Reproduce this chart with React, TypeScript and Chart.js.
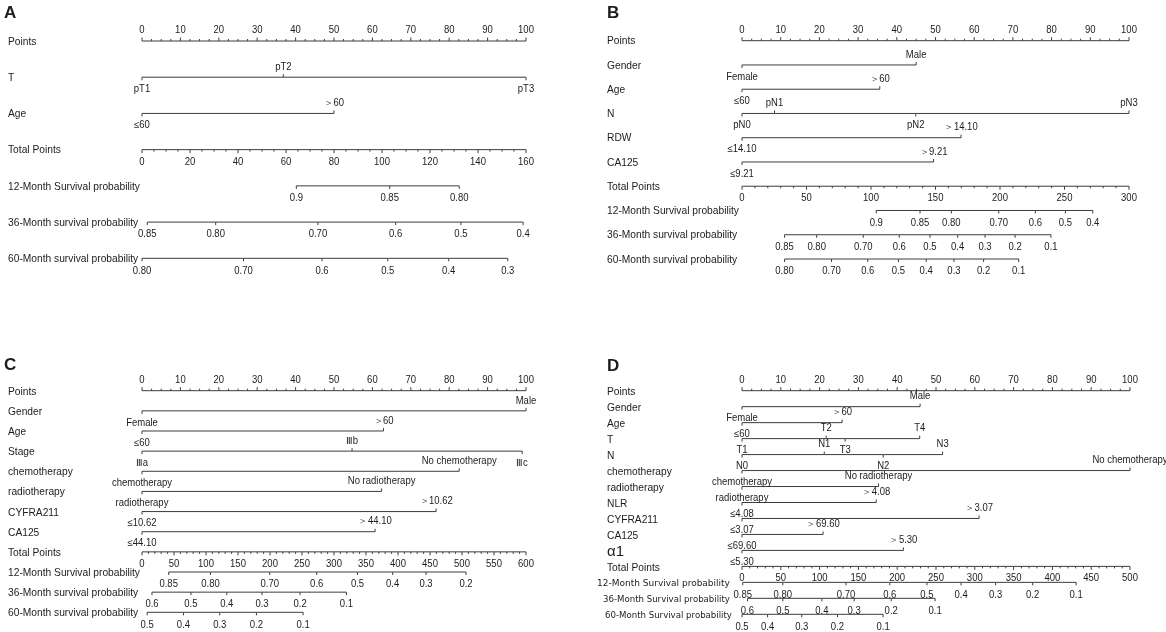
import React, { useEffect, useRef } from 'react';
import { Chart, registerables } from 'chart.js';

Chart.register(...registerables);

// ---------------- shared tick labels ----------------
const POINT_TICKS = [0, 10, 20, 30, 40, 50, 60, 70, 80, 90, 100];

// ---------------- Panel A ----------------
const A_ROWS = ['Points', 'T', 'Age', 'Total Points', '12-Month Survival probability', '36-Month survival probability', '60-Month survival probability'];
const A_T_LEVELS = ['pT1', 'pT2', 'pT3'];
const A_T_POINTS = [0, 36.8, 100];
const A_AGE_LEVELS = ['≤60', '＞60'];
const A_AGE_POINTS = [0, 50];
const A_TOTAL_TICKS = [0, 20, 40, 60, 80, 100, 120, 140, 160];
const A_S12_LABELS = ['0.9', '0.85', '0.80'];
const A_S12_TOTAL = [64.3, 103.2, 132.2];
const A_S36_LABELS = ['0.85', '0.80', '0.70', '0.6', '0.5', '0.4'];
const A_S36_TOTAL = [2.2, 30.7, 73.3, 105.7, 132.9, 158.8];
const A_S60_LABELS = ['0.80', '0.70', '0.6', '0.5', '0.4', '0.3'];
const A_S60_TOTAL = [0, 42.3, 75, 102.4, 127.8, 152.4];

// ---------------- Panel B ----------------
const B_ROWS = ['Points', 'Gender', 'Age', 'N', 'RDW', 'CA125', 'Total Points', '12-Month Survival probability', '36-Month survival probability', '60-Month survival probability'];
const B_GENDER_LEVELS = ['Female', 'Male'];
const B_GENDER_POINTS = [0, 45];
const B_AGE_LEVELS = ['≤60', '＞60'];
const B_AGE_POINTS = [0, 35.6];
const B_N_LEVELS = ['pN0', 'pN1', 'pN2', 'pN3'];
const B_N_POINTS = [0, 8.4, 44.9, 100];
const B_RDW_LEVELS = ['≤14.10', '＞14.10'];
const B_RDW_POINTS = [0, 56.6];
const B_CA125_LEVELS = ['≤9.21', '＞9.21'];
const B_CA125_POINTS = [0, 49.5];
const B_TOTAL_TICKS = [0, 50, 100, 150, 200, 250, 300];
const B_S12_LABELS = ['0.9', '0.85', '0.80', '0.70', '0.6', '0.5', '0.4'];
const B_S12_TOTAL = [104.1, 138, 162.3, 199, 227.4, 250.7, 271.9];
const B_S36_LABELS = ['0.85', '0.80', '0.70', '0.6', '0.5', '0.4', '0.3', '0.2', '0.1'];
const B_S36_TOTAL = [33, 57.9, 94, 121.9, 145.7, 167.2, 188.4, 211.7, 239.5];
const B_S60_LABELS = ['0.80', '0.70', '0.6', '0.5', '0.4', '0.3', '0.2', '0.1'];
const B_S60_TOTAL = [33, 69.4, 97.5, 121.3, 142.8, 164.3, 187.3, 214.5];

// ---------------- Panel C ----------------
const C_ROWS = ['Points', 'Gender', 'Age', 'Stage', 'chemotherapy', 'radiotherapy', 'CYFRA211', 'CA125', 'Total Points', '12-Month Survival probability', '36-Month survival probability', '60-Month survival probability'];
const C_GENDER_LEVELS = ['Female', 'Male'];
const C_GENDER_POINTS = [0, 100];
const C_AGE_LEVELS = ['≤60', '＞60'];
const C_AGE_POINTS = [0, 62.9];
const C_STAGE_LEVELS = ['Ⅲa', 'Ⅲb', 'Ⅲc'];
const C_STAGE_POINTS = [0, 54.7, 99];
const C_CHEMO_LEVELS = ['chemotherapy', 'No chemotherapy'];
const C_CHEMO_POINTS = [0, 82.6];
const C_RADIO_LEVELS = ['radiotherapy', 'No radiotherapy'];
const C_RADIO_POINTS = [0, 62.4];
const C_CYFRA_LEVELS = ['≤10.62', '＞10.62'];
const C_CYFRA_POINTS = [0, 76.6];
const C_CA125_LEVELS = ['≤44.10', '＞44.10'];
const C_CA125_POINTS = [0, 60.7];
const C_TOTAL_TICKS = [0, 50, 100, 150, 200, 250, 300, 350, 400, 450, 500, 550, 600];
const C_S12_LABELS = ['0.85', '0.80', '0.70', '0.6', '0.5', '0.4', '0.3', '0.2'];
const C_S12_TOTAL = [41.7, 107, 199.6, 273, 336.7, 391.7, 443.8, 506.3];
const C_S36_LABELS = ['0.6', '0.5', '0.4', '0.3', '0.2', '0.1'];
const C_S36_TOTAL = [15.6, 76.4, 132.5, 187.5, 247, 319.4];
const C_S60_LABELS = ['0.5', '0.4', '0.3', '0.2', '0.1'];
const C_S60_TOTAL = [8.1, 64.8, 121.5, 178.8, 251.7];

// ---------------- Panel D ----------------
const D_ROWS = ['Points', 'Gender', 'Age', 'T', 'N', 'chemotherapy', 'radiotherapy', 'NLR', 'CYFRA211', 'CA125', 'α1', 'Total Points', '12-Month Survival probability', '36-Month Survival probability', '60-Month Survival probability'];
const D_GENDER_LEVELS = ['Female', 'Male'];
const D_GENDER_POINTS = [0, 45.9];
const D_AGE_LEVELS = ['≤60', '＞60'];
const D_AGE_POINTS = [0, 25.8];
const D_T_LEVELS = ['T1', 'T2', 'T3', 'T4'];
const D_T_POINTS = [0, 21.7, 26.6, 45.8];
const D_N_LEVELS = ['N0', 'N1', 'N2', 'N3'];
const D_N_POINTS = [0, 21.2, 36.4, 51.7];
const D_CHEMO_LEVELS = ['chemotherapy', 'No chemotherapy'];
const D_CHEMO_POINTS = [0, 100];
const D_RADIO_LEVELS = ['radiotherapy', 'No radiotherapy'];
const D_RADIO_POINTS = [0, 35.2];
const D_NLR_LEVELS = ['≤4.08', '＞4.08'];
const D_NLR_POINTS = [0, 34.6];
const D_CYFRA_LEVELS = ['≤3.07', '＞3.07'];
const D_CYFRA_POINTS = [0, 61.1];
const D_CA125_LEVELS = ['≤69.60', '＞69.60'];
const D_CA125_POINTS = [0, 20.9];
const D_A1_LEVELS = ['≤5.30', '＞5.30'];
const D_A1_POINTS = [0, 41.6];
const D_TOTAL_TICKS = [0, 50, 100, 150, 200, 250, 300, 350, 400, 450, 500];
const D_S12_LABELS = ['0.85', '0.80', '0.70', '0.6', '0.5', '0.4', '0.3', '0.2', '0.1'];
const D_S12_TOTAL = [1, 52.6, 134, 190.4, 238.3, 282.3, 326.8, 374.6, 430.6];
const D_S36_LABELS = ['0.6', '0.5', '0.4', '0.3', '0.2', '0.1'];
const D_S36_TOTAL = [7, 52.6, 102.9, 144.5, 192.3, 248.8];
const D_S60_LABELS = ['0.5', '0.4', '0.3', '0.2', '0.1'];
const D_S60_TOTAL = [0, 33, 77, 123, 181.8];

// ---------------- helpers ----------------
type Kind = 'points' | 'var' | 'total' | 'prob';
type Row = { name: string; kind: Kind; values: number[]; labels: string[] };

const pts = (name: string): Row => ({ name, kind: 'points', values: POINT_TICKS, labels: POINT_TICKS.map(String) });
const v = (name: string, values: number[], labels: string[]): Row => ({ name, kind: 'var', values, labels });
const tot = (name: string, ticks: number[]): Row => ({ name, kind: 'total', values: ticks, labels: ticks.map(String) });
const pr = (name: string, values: number[], labels: string[]): Row => ({ name, kind: 'prob', values, labels });

type Panel = {
  letter: string; left: number; top: number; width: number; height: number;
  plotLeft: number; plotRight: number; rowTop: number; rowBottom: number;
  totalMax: number; totalMinor: number; labelX: number; labelDy: number;
  letterX: number; letterY: number; rows: Row[];
  rowFont?: Record<string, { font: string; sx: number; dx: number }>;
};

const SANS = "'Liberation Sans', Arial, sans-serif";
const LABEL_FONT = `11px ${SANS}`;
const TICK_FONT = `10px ${SANS}`;
const LINE = '#3c3c3c';
const TEXT = '#1c1c1c';

const PANELS: Panel[] = [
  {
    letter: 'A', left: 0, top: 0, width: 580, height: 300,
    plotLeft: 142, plotRight: 526, rowTop: 41, rowBottom: 258.3,
    totalMax: 160, totalMinor: 5, labelX: 8, labelDy: 0.7, letterX: 4, letterY: 13,
    rows: [
      pts(A_ROWS[0]),
      v(A_ROWS[1], A_T_POINTS, A_T_LEVELS),
      v(A_ROWS[2], A_AGE_POINTS, A_AGE_LEVELS),
      tot(A_ROWS[3], A_TOTAL_TICKS),
      pr(A_ROWS[4], A_S12_TOTAL, A_S12_LABELS),
      pr(A_ROWS[5], A_S36_TOTAL, A_S36_LABELS),
      pr(A_ROWS[6], A_S60_TOTAL, A_S60_LABELS),
    ],
  },
  {
    letter: 'B', left: 580, top: 0, width: 586, height: 300,
    plotLeft: 742, plotRight: 1129, rowTop: 40.7, rowBottom: 259,
    totalMax: 300, totalMinor: 10, labelX: 607, labelDy: 0.7, letterX: 607, letterY: 13,
    rows: [
      pts(B_ROWS[0]),
      v(B_ROWS[1], B_GENDER_POINTS, B_GENDER_LEVELS),
      v(B_ROWS[2], B_AGE_POINTS, B_AGE_LEVELS),
      v(B_ROWS[3], B_N_POINTS, B_N_LEVELS),
      v(B_ROWS[4], B_RDW_POINTS, B_RDW_LEVELS),
      v(B_ROWS[5], B_CA125_POINTS, B_CA125_LEVELS),
      tot(B_ROWS[6], B_TOTAL_TICKS),
      pr(B_ROWS[7], B_S12_TOTAL, B_S12_LABELS),
      pr(B_ROWS[8], B_S36_TOTAL, B_S36_LABELS),
      pr(B_ROWS[9], B_S60_TOTAL, B_S60_LABELS),
    ],
  },
  {
    letter: 'C', left: 0, top: 300, width: 580, height: 332,
    plotLeft: 142, plotRight: 526, rowTop: 390.7, rowBottom: 612.3,
    totalMax: 600, totalMinor: 10, labelX: 8, labelDy: 1, letterX: 4, letterY: 365,
    rows: [
      pts(C_ROWS[0]),
      v(C_ROWS[1], C_GENDER_POINTS, C_GENDER_LEVELS),
      v(C_ROWS[2], C_AGE_POINTS, C_AGE_LEVELS),
      v(C_ROWS[3], C_STAGE_POINTS, C_STAGE_LEVELS),
      v(C_ROWS[4], C_CHEMO_POINTS, C_CHEMO_LEVELS),
      v(C_ROWS[5], C_RADIO_POINTS, C_RADIO_LEVELS),
      v(C_ROWS[6], C_CYFRA_POINTS, C_CYFRA_LEVELS),
      v(C_ROWS[7], C_CA125_POINTS, C_CA125_LEVELS),
      tot(C_ROWS[8], C_TOTAL_TICKS),
      pr(C_ROWS[9], C_S12_TOTAL, C_S12_LABELS),
      pr(C_ROWS[10], C_S36_TOTAL, C_S36_LABELS),
      pr(C_ROWS[11], C_S60_TOTAL, C_S60_LABELS),
    ],
  },
  {
    letter: 'D', left: 580, top: 300, width: 586, height: 332,
    plotLeft: 742, plotRight: 1130, rowTop: 390.7, rowBottom: 614.3,
    totalMax: 500, totalMinor: 10, labelX: 607, labelDy: 1.5, letterX: 607, letterY: 366,
    rows: [
      pts(D_ROWS[0]),
      v(D_ROWS[1], D_GENDER_POINTS, D_GENDER_LEVELS),
      v(D_ROWS[2], D_AGE_POINTS, D_AGE_LEVELS),
      v(D_ROWS[3], D_T_POINTS, D_T_LEVELS),
      v(D_ROWS[4], D_N_POINTS, D_N_LEVELS),
      v(D_ROWS[5], D_CHEMO_POINTS, D_CHEMO_LEVELS),
      v(D_ROWS[6], D_RADIO_POINTS, D_RADIO_LEVELS),
      v(D_ROWS[7], D_NLR_POINTS, D_NLR_LEVELS),
      v(D_ROWS[8], D_CYFRA_POINTS, D_CYFRA_LEVELS),
      v(D_ROWS[9], D_CA125_POINTS, D_CA125_LEVELS),
      v(D_ROWS[10], D_A1_POINTS, D_A1_LEVELS),
      tot(D_ROWS[11], D_TOTAL_TICKS),
      pr(D_ROWS[12], D_S12_TOTAL, D_S12_LABELS),
      pr(D_ROWS[13], D_S36_TOTAL, D_S36_LABELS),
      pr(D_ROWS[14], D_S60_TOTAL, D_S60_LABELS),
    ],
    rowFont: {
      'α1': { font: `15px ${SANS}`, sx: 1, dx: 0 },
      '12-Month Survival probability': { font: "9px 'DejaVu Sans', sans-serif", sx: 1, dx: -10 },
      '36-Month Survival probability': { font: "8.6px 'DejaVu Sans', sans-serif", sx: 1, dx: -4 },
      '60-Month Survival probability': { font: "8.6px 'DejaVu Sans', sans-serif", sx: 1, dx: -2 },
    },
  },
];

function drawText(ctx: CanvasRenderingContext2D, s: string, x: number, y: number, align: CanvasTextAlign, font: string, sx: number) {
  ctx.save();
  ctx.font = font;
  ctx.textAlign = align;
  ctx.textBaseline = 'middle';
  ctx.translate(x, y);
  ctx.scale(sx, 1);
  ctx.fillText(s, 0, 0);
  ctx.restore();
}

function makePlugin(p: Panel) {
  return {
    id: 'nomogram' + p.letter,
    afterDatasetsDraw(chart: any) {
      const ctx: CanvasRenderingContext2D = chart.ctx;
      const ys = chart.scales.y;
      ctx.save();
      ctx.fillStyle = TEXT;
      ctx.strokeStyle = LINE;
      ctx.lineWidth = 1;
      const tick = (x: number, y0: number, y1: number) => {
        ctx.beginPath();
        ctx.moveTo(x, y0);
        ctx.lineTo(x, y1);
        ctx.stroke();
      };
      drawText(ctx, p.letter, p.letterX - p.left, p.letterY - p.top, 'left', `bold 17px ${SANS}`, 1);
      p.rows.forEach((row, i) => {
        const y = ys.getPixelForValue(i);
        const xs = chart.scales[row.kind === 'points' || row.kind === 'var' ? 'x' : 'xt'];
        const rf = p.rowFont && p.rowFont[row.name];
        drawText(ctx, row.name, p.labelX - p.left + (rf ? rf.dx : 0), y + p.labelDy, 'left', rf ? rf.font : LABEL_FONT, rf ? rf.sx : 0.93);
        if (row.kind === 'points' || row.kind === 'total') {
          const max = row.kind === 'points' ? 100 : p.totalMax;
          const minor = row.kind === 'points' ? 2.5 : p.totalMinor;
          const dir = row.kind === 'points' ? -1 : 1;
          for (let t = 0; t <= max + 1e-6; t += minor) {
            const major = row.values.some((m) => Math.abs(m - t) < 1e-6);
            const x = xs.getPixelForValue(t);
            tick(x, y, y + dir * (major ? 3.5 : 2));
          }
          row.values.forEach((val, j) => {
            const x = xs.getPixelForValue(val);
            drawText(ctx, row.labels[j], x, y + (dir < 0 ? -10.3 : 12.3), 'center', TICK_FONT, 0.95);
          });
        } else if (row.kind === 'var') {
          row.values.forEach((val, j) => {
            const x = xs.getPixelForValue(val);
            const above = j % 2 === 1;
            tick(x, y, above ? y - 3 : y + 3);
            drawText(ctx, row.labels[j], x, above ? y - 10 : y + 12, 'center', TICK_FONT, 0.95);
          });
        } else {
          row.values.forEach((val, j) => {
            const x = xs.getPixelForValue(val);
            tick(x, y, y + 3);
            drawText(ctx, row.labels[j], x, y + 12.5, 'center', TICK_FONT, 0.95);
          });
        }
      });
      ctx.restore();
    },
  };
}

function NomogramPanel({ p }: { p: Panel }) {
  const ref = useRef<HTMLCanvasElement | null>(null);
  useEffect(() => {
    if (!ref.current) return;
    const datasets = p.rows.map((row) => ({
      label: row.name,
      data: row.values.map((val) => ({ x: val, y: row.name })),
      xAxisID: row.kind === 'points' || row.kind === 'var' ? 'x' : 'xt',
      yAxisID: 'y',
      borderColor: LINE,
      borderWidth: 1,
      pointRadius: 0,
      pointHoverRadius: 0,
      fill: false,
      tension: 0,
      clip: false as any,
    }));
    const chart = new Chart(ref.current, {
      type: 'line',
      data: { datasets } as any,
      options: {
        animation: false,
        responsive: false,
        maintainAspectRatio: false,
        events: [],
        layout: {
          padding: {
            left: p.plotLeft - p.left,
            right: p.left + p.width - p.plotRight,
            top: p.rowTop - p.top,
            bottom: p.top + p.height - p.rowBottom,
          },
        },
        scales: {
          x: { type: 'linear', min: 0, max: 100, display: false },
          xt: { type: 'linear', axis: 'x', position: 'bottom', min: 0, max: p.totalMax, display: false },
          y: { type: 'category', labels: p.rows.map((r) => r.name), offset: false, display: false },
        } as any,
        plugins: { legend: { display: false }, tooltip: { enabled: false } },
      },
      plugins: [makePlugin(p)],
    });
    return () => chart.destroy();
  }, [p]);
  return (
    <canvas
      ref={ref}
      width={p.width}
      height={p.height}
      style={{ position: 'absolute', left: p.left, top: p.top, width: p.width, height: p.height }}
    />
  );
}

export default function App() {
  return (
    <div style={{ position: 'absolute', left: 0, top: 0, width: 1166, height: 632, background: '#ffffff', overflow: 'hidden' }}>
      {PANELS.map((p) => (
        <NomogramPanel key={p.letter} p={p} />
      ))}
    </div>
  );
}
